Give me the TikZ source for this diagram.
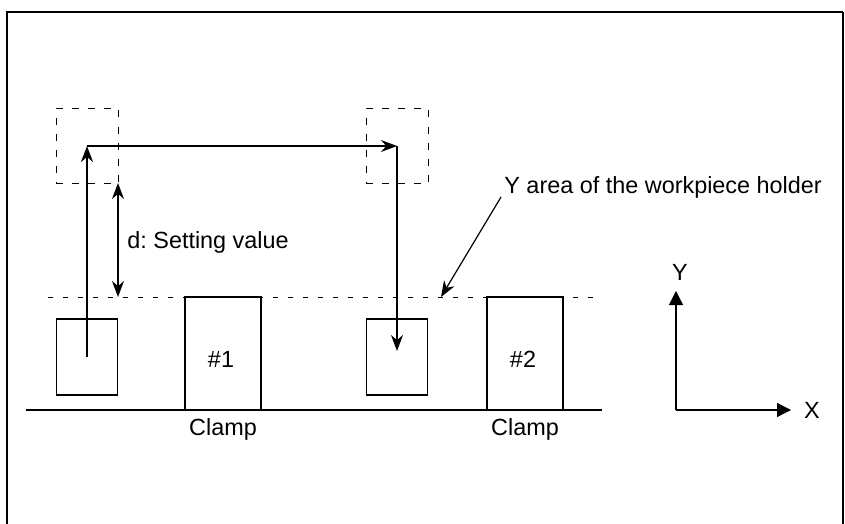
\documentclass[tikz,border=0pt]{standalone}
\usepackage{fontspec}
\setmainfont{Liberation Sans}
\usetikzlibrary{arrows.meta}
\frenchspacing
\tikzset{
    piece/.style={draw, line width=0.6pt, minimum width=30.5pt, minimum height=38pt, inner sep=0pt},
    clampbox/.style={draw, line width=0.6pt, minimum width=38pt, minimum height=56.5pt, inner sep=0pt},
    holdbox/.style={draw, line width=0.5pt, dash pattern=on 3.5pt off 4.5pt, minimum width=31pt, minimum height=37.5pt, inner sep=0pt},
    tip/.style={-{Stealth[length=8pt,width=6pt]}},
    txt/.style={font=\fontsize{11.7}{14}\selectfont, inner sep=0pt}
}
\begin{document}
\begin{tikzpicture}[x=0.5pt, y=-0.5pt]
    \useasboundingbox (0,0) rectangle (845,524);
    \draw [line width=1pt] (7,524) |- (843,12);
    \draw [line width=0.6pt] (843,12) -- (843,524);

    \node[holdbox](h1) at (87,146) {};
    \node[holdbox](h2) at (397,146) {};
    \node[piece](w1) at (87,357) {};
    \node[piece](w2) at (397,357) {};
    \node[clampbox](c1) at (223,353.5) {};
    \node[clampbox](c2) at (525,353.5) {};

    \coordinate (lim1) at (48,297);
    \coordinate (lim2) at (602,297);
    \coordinate (base1) at (26,410);
    \coordinate (base2) at (602,410);
    \coordinate (dtop) at (118,183);
    \coordinate (dbot) at (118,297);

    \draw [line width=0.5pt, dash pattern=on 2.5pt off 5pt] (lim1) -- (lim2);
    \draw [line width=0.6pt] (base1) -- (base2);

    \draw [tip, line width=1.1pt] (w1.center) -- (h1.center);
    \draw [tip, line width=0.7pt] (h1.center) -- (h2.center);
    \draw [tip, line width=0.7pt, shorten >=3pt] (h2.center) -- (w2.center);
    \draw [{Stealth[length=8pt,width=6pt]}-{Stealth[length=8pt,width=6pt]}, line width=0.6pt] (dtop) -- (dbot);

    \node[txt, anchor=base west](dlabel) at (127,248) {d: Setting value};
    \node[txt, anchor=base west](area) at (504,193) {Y area of the workpiece holder};
    \draw [tip, line width=0.6pt] (501,197) -- (441,297);

    \node[txt](n1) at (221,359) {\#1};
    \node[txt](n2) at (523,359) {\#2};
    \node[txt, anchor=base](l1) at (223,435) {Clamp};
    \node[txt, anchor=base](l2) at (525,435) {Clamp};

    \coordinate (o) at (676,410);
    \coordinate (ya) at (676,291);
    \coordinate (xa) at (791,410);
    \draw [-{Triangle[length=7pt,width=7pt]}, line width=0.6pt] (o) -- (ya);
    \draw [-{Triangle[length=7pt,width=7pt]}, line width=0.6pt] (o) -- (xa);
    \node[txt](ylab) at (680,272) {Y};
    \node[txt](xlab) at (812,410) {X};
\end{tikzpicture}
\end{document}
